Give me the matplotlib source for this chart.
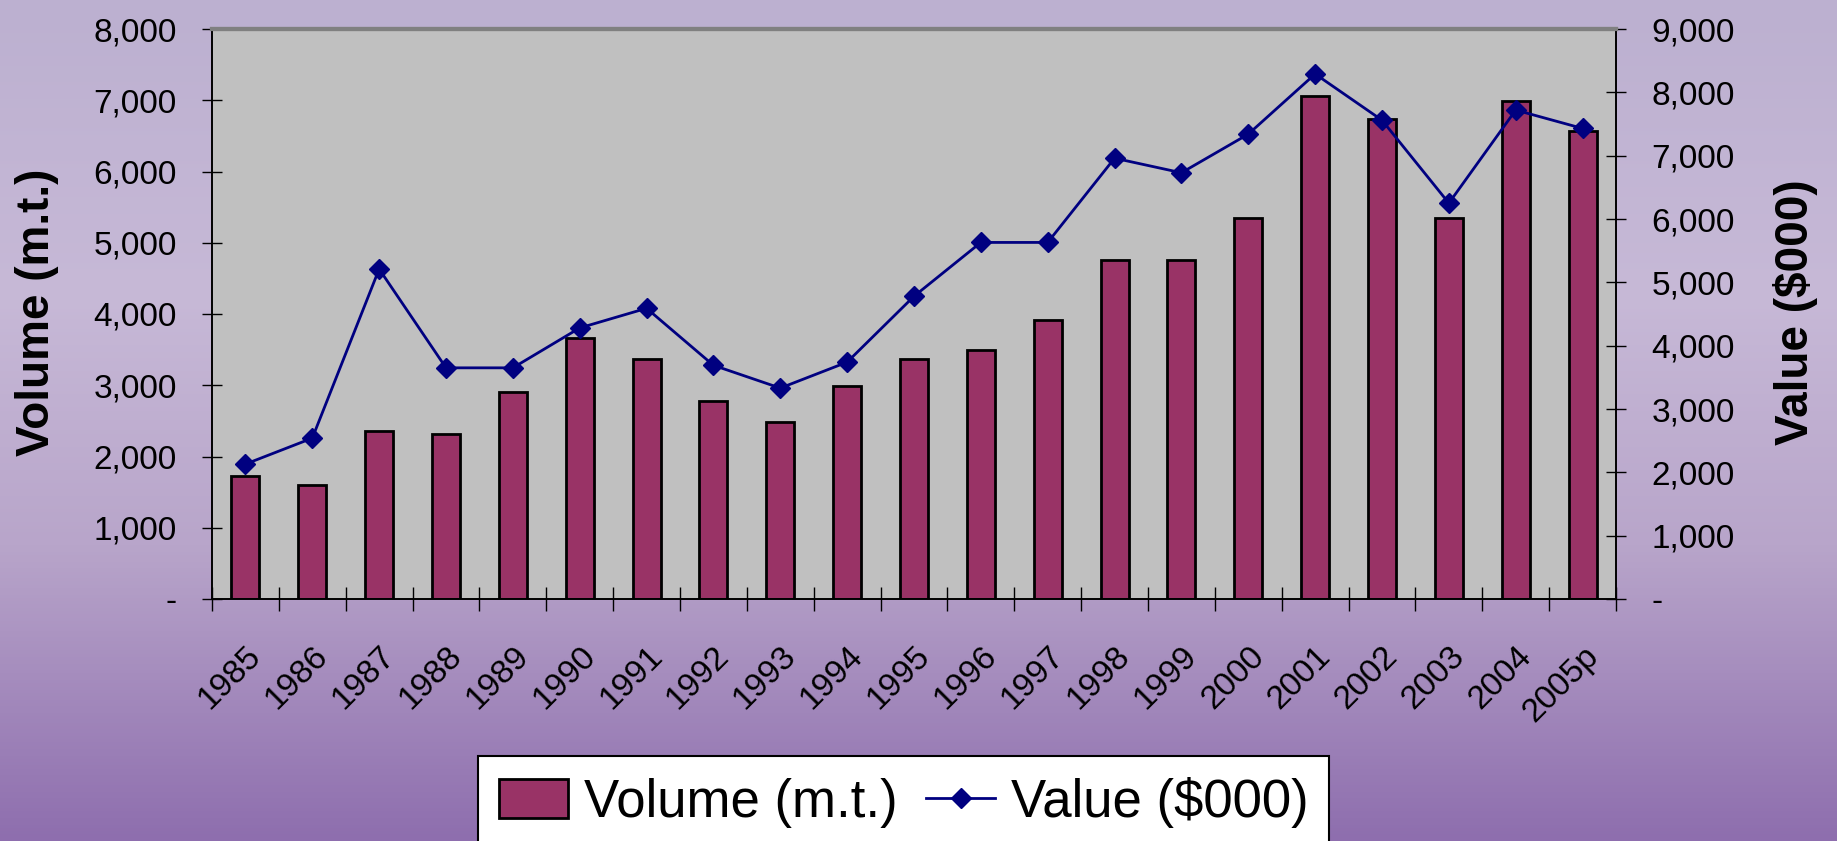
import numpy as np
import matplotlib
matplotlib.use('Agg')
import matplotlib.pyplot as plt
from matplotlib.colors import LinearSegmentedColormap
from matplotlib.ticker import FuncFormatter, FixedLocator

plt.rcParams['font.family'] = ['Liberation Sans', 'DejaVu Sans']

years = ['1985', '1986', '1987', '1988', '1989', '1990', '1991', '1992', '1993',
         '1994', '1995', '1996', '1997', '1998', '1999', '2000', '2001', '2002',
         '2003', '2004', '2005p']
volume = [1730, 1600, 2360, 2320, 2900, 3660, 3370, 2780, 2480, 2990, 3370,
          3490, 3915, 4760, 4760, 5350, 7060, 6740, 5350, 6990, 6570]
value = [2130, 2540, 5210, 3650, 3650, 4280, 4590, 3690, 3330, 3740, 4780,
         5630, 5630, 6960, 6730, 7340, 8290, 7560, 6250, 7720, 7430]

W, H = 1837, 841
fig = plt.figure(figsize=(W / 100, H / 100), dpi=100)

# background gradient
bg = fig.add_axes([0, 0, 1, 1], zorder=-10)
bg.axis('off')
cmap = LinearSegmentedColormap.from_list(
    'bg', [(0, '#BCB0D0'), (0.35, '#C7B9D7'), (0.65, '#B8A5CA'), (1, '#8E6EAE')])
grad = np.linspace(0, 1, 256).reshape(-1, 1)
bg.imshow(grad, aspect='auto', cmap=cmap, extent=[0, 1, 0, 1])

ax = fig.add_axes([212 / W, 1 - 599 / H, (1616 - 212) / W, (599 - 29) / H])
ax.set_facecolor('#C0C0C0')
x = np.arange(len(years))
bars = ax.bar(x, volume, width=0.42, color='#993366', edgecolor='black',
              linewidth=2, label='Volume (m.t.)', zorder=2)
ax.set_xlim(-0.5, len(years) - 0.5)
ax.set_ylim(0, 8000)
ax.set_yticks(np.arange(0, 8001, 1000))

ax2 = ax.twinx()
ax2.set_ylim(0, 9000)
ax2.set_yticks(np.arange(0, 9001, 1000))
line, = ax2.plot(x, value, color='#000080', marker='D', markersize=10,
                 linewidth=2, label='Value ($000)')

fmt = FuncFormatter(lambda v, p: '-' if v == 0 else f'{int(v):,}')
ax.yaxis.set_major_formatter(fmt)
ax2.yaxis.set_major_formatter(fmt)

ax.tick_params(axis='y', direction='inout', length=15, width=1, labelsize=24, pad=18)
ax2.tick_params(axis='y', direction='inout', length=15, width=1, labelsize=24, pad=18)

ax.set_xticks(x)
ax.set_xticklabels(years, rotation=45, ha='right', va='top', rotation_mode='anchor')
ax.tick_params(axis='x', which='major', length=0, labelsize=24, pad=30)
ax.xaxis.set_minor_locator(FixedLocator(np.arange(-0.5, len(years), 1.0)))
ax.tick_params(axis='x', which='minor', direction='inout', length=17, width=1)

for a in (ax, ax2):
    for s in ('left', 'right', 'bottom'):
        a.spines[s].set_color('black')
        a.spines[s].set_linewidth(1.2)
    a.spines['top'].set_color('#808080')
    a.spines['top'].set_linewidth(3)

fig.text(37 / W, 1 - 312 / H, 'Volume (m.t.)', rotation=90, fontsize=33,
         fontweight='bold', ha='center', va='center')
fig.text(1795 / W, 1 - 312 / H, 'Value ($000)', rotation=90, fontsize=33,
         fontweight='bold', ha='center', va='center')

leg = fig.legend(handles=[bars, line], labels=['Volume (m.t.)', 'Value ($000)'],
                 loc='upper left', bbox_to_anchor=(478 / W, 1 - 756 / H), ncol=2,
                 frameon=True, fancybox=False, edgecolor='black', facecolor='white',
                 framealpha=1, fontsize=38, handlelength=1.3, handleheight=0.76,
                 handletextpad=0.3, columnspacing=0.55, borderpad=0.4,
                 borderaxespad=0)
leg.get_frame().set_linewidth(1.5)

fig.savefig('out.png', dpi=100)
